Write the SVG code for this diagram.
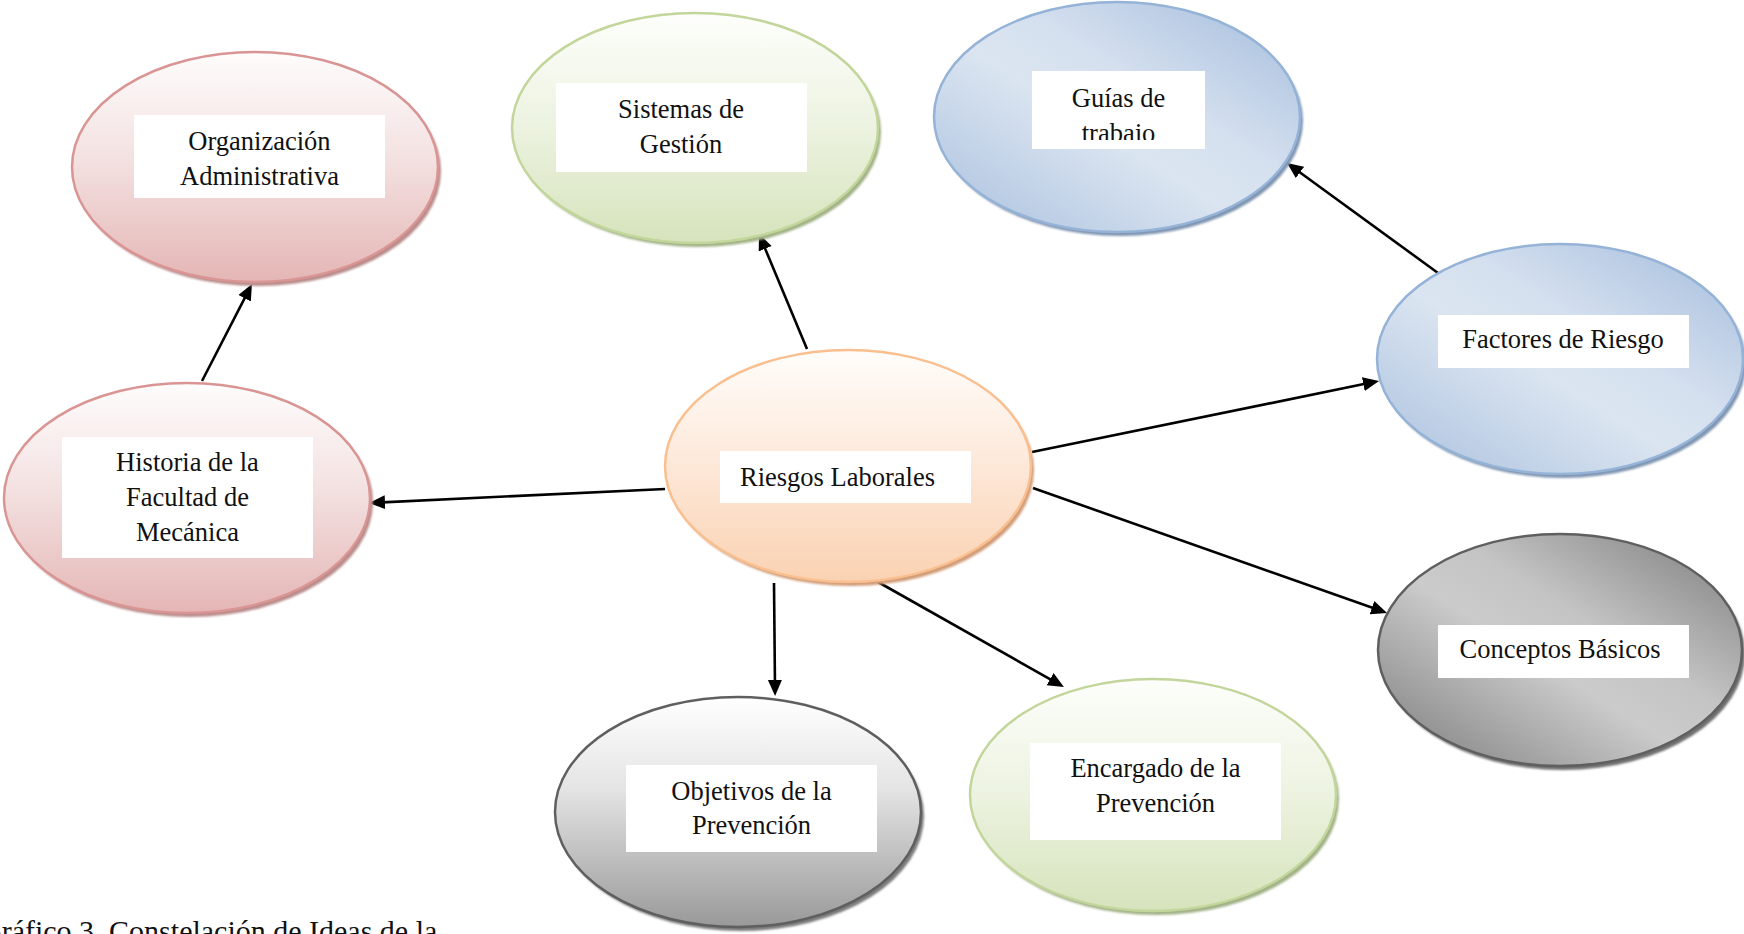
<svg xmlns="http://www.w3.org/2000/svg" width="1744" height="934" viewBox="0 0 1744 934">
  <style>
    .lbl { font-family: "Liberation Serif", "Times New Roman", serif; font-size: 26.5px; fill: #111; text-anchor: middle; }
    .lbl-start { text-anchor: start; }
    .box { fill: #ffffff; }
    .edge { fill: none; stroke: #000; stroke-width: 2.6; marker-end: url(#arrow); }
    .shade { filter: url(#soft); }
    .caption { font-family: "Liberation Serif", "Times New Roman", serif; font-size: 30px; fill: #111; }
  </style>
  <defs>
    <marker id="arrow" markerUnits="userSpaceOnUse" markerWidth="17" markerHeight="15" refX="8" refY="7" orient="auto">
      <path d="M0,0 L16,7 L0,14 z" fill="#000"/>
    </marker>
    <filter id="soft" x="-10%" y="-10%" width="120%" height="120%">
      <feGaussianBlur stdDeviation="1.2"/>
    </filter>
    <linearGradient id="gRed" x1="0" y1="0" x2="0" y2="1">
      <stop offset="0" stop-color="#fefcfc"/>
      <stop offset="0.45" stop-color="#f4e2e2"/>
      <stop offset="1" stop-color="#e4b6b5"/>
    </linearGradient>
    <linearGradient id="gGreen" x1="0" y1="0" x2="0" y2="1">
      <stop offset="0" stop-color="#fdfefb"/>
      <stop offset="0.45" stop-color="#eef4e3"/>
      <stop offset="1" stop-color="#d6e3bc"/>
    </linearGradient>
    <linearGradient id="gOrange" x1="0" y1="0" x2="0" y2="1">
      <stop offset="0" stop-color="#fffdfb"/>
      <stop offset="0.45" stop-color="#fdeadc"/>
      <stop offset="1" stop-color="#fad2b2"/>
    </linearGradient>
    <linearGradient id="gSilver" x1="0" y1="0" x2="0" y2="1">
      <stop offset="0" stop-color="#ffffff"/>
      <stop offset="0.4" stop-color="#e4e4e4"/>
      <stop offset="1" stop-color="#999999"/>
    </linearGradient>
    <linearGradient id="gBlue" x1="0" y1="1" x2="1" y2="0">
      <stop offset="0" stop-color="#a9c0de"/>
      <stop offset="0.45" stop-color="#dbe5f1"/>
      <stop offset="0.6" stop-color="#d5e0ef"/>
      <stop offset="1" stop-color="#a3bcdc"/>
    </linearGradient>
    <linearGradient id="gDark" x1="0" y1="1" x2="1" y2="0">
      <stop offset="0" stop-color="#7a7a7a"/>
      <stop offset="0.45" stop-color="#cbcbcb"/>
      <stop offset="0.6" stop-color="#c4c4c4"/>
      <stop offset="1" stop-color="#7a7a7a"/>
    </linearGradient>
    <clipPath id="clipGuias">
      <rect x="1032" y="71" width="173" height="69"/>
    </clipPath>
  </defs>

  <rect width="1744" height="934" fill="#ffffff"/>

  <!-- Connectors -->
  <g id="connectors">
    <path class="edge" d="M202,381 L248.3,291.1"/>
    <path class="edge" d="M807,349 L762.1,241.4"/>
    <path class="edge" d="M665,489 L377,502.6"/>
    <path class="edge" d="M1032,452 L1371.2,382.6"/>
    <path class="edge" d="M1438,273 L1293.5,167.7"/>
    <path class="edge" d="M1033,488 L1379.5,610.3"/>
    <path class="edge" d="M774,583 L775,688"/>
    <path class="edge" d="M878,582 L1057,683.1"/>
  </g>

  <!-- Organización Administrativa -->
  <g id="node-organizacion">
    <ellipse class="shade" cx="258" cy="171" rx="183" ry="115" fill="#b98c8b"/>
    <ellipse cx="255" cy="167" rx="183" ry="115" fill="url(#gRed)" stroke="#d99594" stroke-width="2.5"/>
    <rect class="box" x="134" y="115" width="251" height="83"/>
    <text class="lbl" x="259.5" y="150">Organización</text>
    <text class="lbl" x="259.5" y="185">Administrativa</text>
  </g>

  <!-- Sistemas de Gestión -->
  <g id="node-sistemas">
    <ellipse class="shade" cx="698" cy="132" rx="183" ry="115" fill="#a3b287"/>
    <ellipse cx="695" cy="128" rx="183" ry="115" fill="url(#gGreen)" stroke="#c2d69b" stroke-width="2.5"/>
    <rect class="box" x="556" y="83" width="251" height="89"/>
    <text class="lbl" x="681" y="118">Sistemas de</text>
    <text class="lbl" x="681" y="153">Gestión</text>
  </g>

  <!-- Guías de trabajo -->
  <g id="node-guias">
    <ellipse class="shade" cx="1120" cy="121" rx="183" ry="115" fill="#7f95b1"/>
    <ellipse cx="1117" cy="117" rx="183" ry="115" fill="url(#gBlue)" stroke="#95b3d7" stroke-width="2.5"/>
    <rect class="box" x="1032" y="71" width="173" height="78"/>
    <g clip-path="url(#clipGuias)">
      <text class="lbl" x="1118.5" y="107">Guías de</text>
      <text class="lbl" x="1118.5" y="142">trabajo</text>
    </g>
  </g>

  <!-- Factores de Riesgo -->
  <g id="node-factores">
    <ellipse class="shade" cx="1563" cy="363" rx="183" ry="115" fill="#7f95b1"/>
    <ellipse cx="1560" cy="359" rx="183" ry="115" fill="url(#gBlue)" stroke="#95b3d7" stroke-width="2.5"/>
    <rect class="box" x="1438" y="315" width="251" height="53"/>
    <text class="lbl" x="1563" y="348">Factores de Riesgo</text>
  </g>

  <!-- Historia de la Facultad de Mecánica -->
  <g id="node-historia">
    <ellipse class="shade" cx="190" cy="502" rx="183" ry="115" fill="#b98c8b"/>
    <ellipse cx="187" cy="498" rx="183" ry="115" fill="url(#gRed)" stroke="#d99594" stroke-width="2.5"/>
    <rect class="box" x="62" y="437" width="251" height="121"/>
    <text class="lbl" x="187.5" y="471">Historia de la</text>
    <text class="lbl" x="187.5" y="506">Facultad de</text>
    <text class="lbl" x="187.5" y="541">Mecánica</text>
  </g>

  <!-- Riesgos Laborales -->
  <g id="node-riesgos">
    <ellipse class="shade" cx="851" cy="470" rx="183" ry="116" fill="#d29d79"/>
    <ellipse cx="848" cy="466" rx="183" ry="116" fill="url(#gOrange)" stroke="#fabf8f" stroke-width="2.5"/>
    <rect class="box" x="720" y="451" width="251" height="52"/>
    <text class="lbl lbl-start" x="740" y="486">Riesgos Laborales</text>
  </g>

  <!-- Conceptos Básicos -->
  <g id="node-conceptos">
    <ellipse class="shade" cx="1563" cy="654" rx="182" ry="116" fill="#6e6e6e"/>
    <ellipse cx="1560" cy="650" rx="182" ry="116" fill="url(#gDark)" stroke="#5f5f5f" stroke-width="2.5"/>
    <rect class="box" x="1438" y="625" width="251" height="53"/>
    <text class="lbl" x="1560" y="658">Conceptos Básicos</text>
  </g>

  <!-- Objetivos de la Prevención -->
  <g id="node-objetivos">
    <ellipse class="shade" cx="741" cy="816" rx="183" ry="115" fill="#7a7a7a"/>
    <ellipse cx="738" cy="812" rx="183" ry="115" fill="url(#gSilver)" stroke="#5f5f5f" stroke-width="2.5"/>
    <rect class="box" x="626" y="765" width="251" height="87"/>
    <text class="lbl" x="751.5" y="800">Objetivos de la</text>
    <text class="lbl" x="751.5" y="834">Prevención</text>
  </g>

  <!-- Encargado de la Prevención -->
  <g id="node-encargado">
    <ellipse class="shade" cx="1156" cy="799" rx="183" ry="116" fill="#a3b287"/>
    <ellipse cx="1153" cy="795" rx="183" ry="116" fill="url(#gGreen)" stroke="#c2d69b" stroke-width="2.5"/>
    <rect class="box" x="1030" y="743" width="251" height="97"/>
    <text class="lbl" x="1155.5" y="777">Encargado de la</text>
    <text class="lbl" x="1155.5" y="812">Prevención</text>
  </g>

  <!-- Figure caption, running off the page edges -->
  <text class="caption" x="-20" y="941">Gráfico 3. Constelación de Ideas de la</text>
</svg>
